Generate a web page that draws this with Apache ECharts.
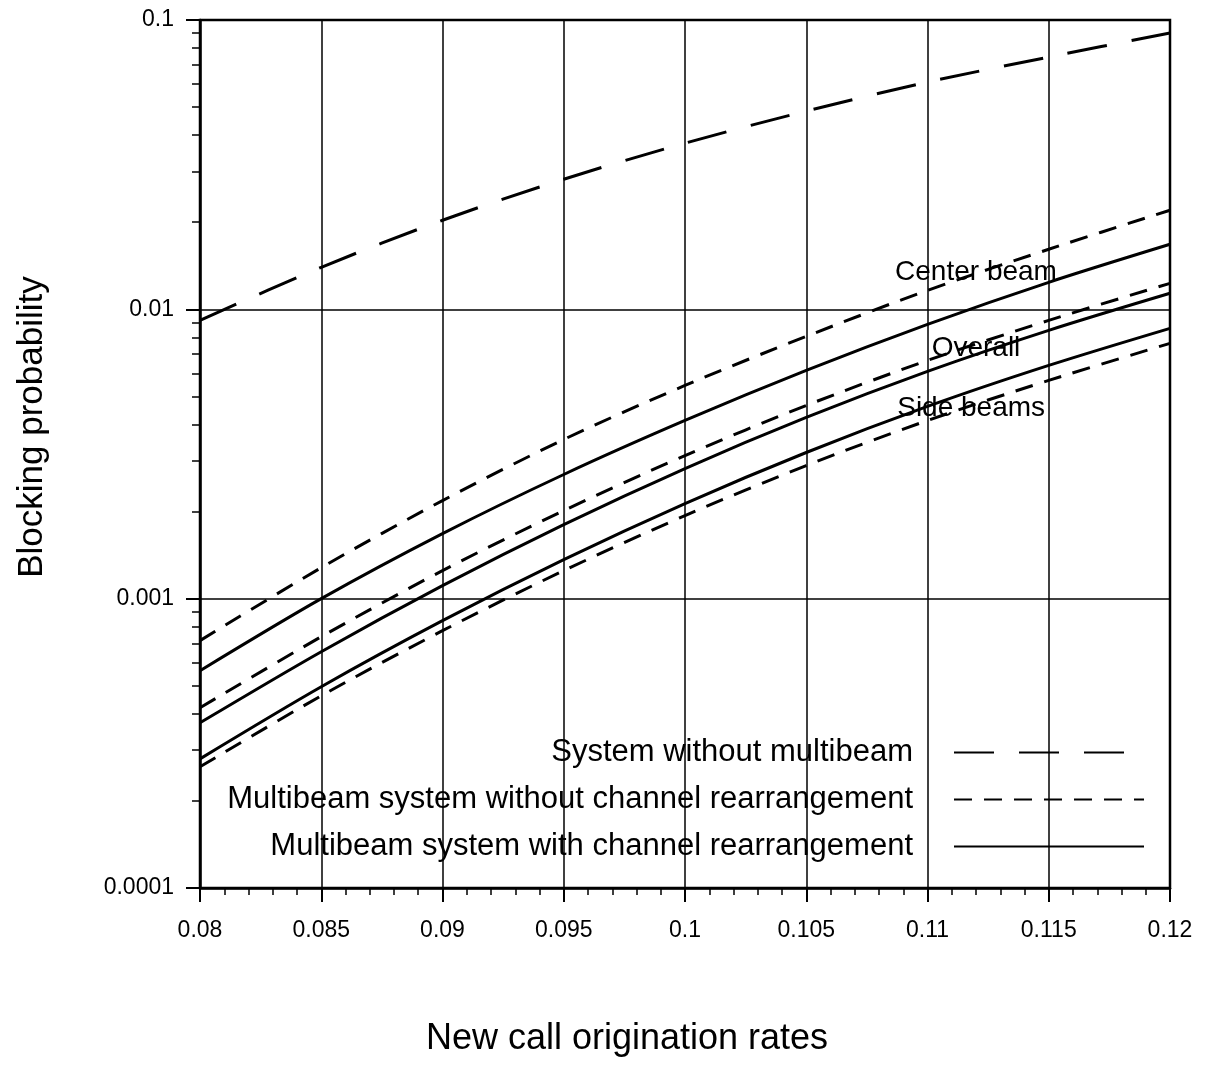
<!DOCTYPE html>
<html>
<head>
<meta charset="utf-8">
<script src="https://cdn.jsdelivr.net/npm/echarts@6/dist/echarts.min.js"></script>
<style>
html,body{margin:0;padding:0;background:#fff;}
#chart{width:1205px;height:1068px;}
</style>
</head>
<body>
<div id="chart"></div>
<script>
// ---- data ----
const xValues = [0.08, 0.085, 0.09, 0.095, 0.1, 0.105, 0.11, 0.115, 0.12];
const noMultibeam      = [0.00916, 0.01397, 0.02032, 0.02817, 0.03753, 0.04843, 0.06102, 0.07447, 0.09016];
const centerNoRearr    = [0.000716, 0.00128, 0.002183, 0.00355, 0.005458, 0.008065, 0.01163, 0.01613, 0.02201];
const centerRearr      = [0.0005636, 0.001, 0.001678, 0.002686, 0.004129, 0.00615, 0.008873, 0.0124, 0.01678];
const overallNoRearr   = [0.0004196, 0.0007388, 0.00125, 0.002016, 0.003124, 0.004653, 0.00666, 0.00916, 0.0123];
const overallRearr     = [0.0003723, 0.0006555, 0.001109, 0.001803, 0.002817, 0.00423, 0.006102, 0.008458, 0.01136];
const sideRearr        = [0.0002795, 0.000496, 0.0008392, 0.001364, 0.002131, 0.0032, 0.004617, 0.0064, 0.008597];
const sideNoRearr      = [0.0002623, 0.0004617, 0.000775, 0.00125, 0.001937, 0.002885, 0.004129, 0.00568, 0.007627];
const xTickLabels = ['0.08','0.085','0.09','0.095','0.1','0.105','0.11','0.115','0.12'];
const yTickLabels = {'-4':'0.0001','-3':'0.001','-2':'0.01','-1':'0.1'};
const legendNames = ['System without multibeam','Multibeam system without channel rearrangement','Multibeam system with channel rearrangement'];
const annotations = [
  {text:'Center beam', x:0.1120, y:0.01343},
  {text:'Overall', x:0.1120, y:0.00733},
  {text:'Side beams', x:0.1118, y:0.004543}
];

const FONT = '"Liberation Sans", Arial, sans-serif';
const pairs = arr => xValues.map((x,i)=>[x, arr[i]]);

function mkSeries(name, data, dash, extra){
  const s = {
    name: name, type:'line', data: pairs(data), symbol:'none', smooth:0.3,
    lineStyle:{color:'#000', width:3, type: dash || 'solid'},
    itemStyle:{color:'#000'},
    silent:true, z:3
  };
  return Object.assign(s, extra||{});
}
const LONG = [40,25];
const SHORT = [18,12];

const chart = echarts.init(document.getElementById('chart'), null, {renderer:'canvas'});
const option = {
  backgroundColor:'#fff',
  animation:false,
  grid:{left:200, right:35, top:20, bottom:180, show:true, borderColor:'#000', borderWidth:2.5, backgroundColor:'transparent'},
  xAxis:{
    type:'value', min:0.08, max:0.12, interval:0.005,
    name:'New call origination rates', nameLocation:'middle', nameGap:133,
    nameTextStyle:{fontFamily:FONT, fontSize:36, color:'#000', padding:[0,116,0,0]},
    axisLine:{show:true, lineStyle:{color:'#000', width:2.5}},
    axisTick:{show:true, length:14, lineStyle:{color:'#000', width:2}},
    minorTick:{show:true, splitNumber:5, length:7, lineStyle:{color:'#000', width:1.5}},
    splitLine:{show:true, lineStyle:{color:'#000', width:1.5}},
    axisLabel:{margin:31, fontFamily:FONT, fontSize:23, color:'#000',
      formatter:function(v){ const i = Math.round((v-0.08)/0.005); return xTickLabels[i] || ''; }}
  },
  yAxis:{
    type:'log', logBase:10, min:0.0001, max:0.1,
    name:'Blocking probability', nameLocation:'middle', nameGap:150, nameRotate:90,
    nameTextStyle:{fontFamily:FONT, fontSize:35, color:'#000', padding:[0,0,0,54]},
    axisLine:{show:true, lineStyle:{color:'#000', width:2.5}},
    axisTick:{show:true, length:14, lineStyle:{color:'#000', width:2}},
    minorTick:{show:true, splitNumber:9, length:8, lineStyle:{color:'#000', width:1.5}},
    splitLine:{show:true, lineStyle:{color:'#000', width:1.5}},
    axisLabel:{margin:26, fontFamily:FONT, fontSize:23, color:'#000',
      formatter:function(v){ const e = Math.round(Math.log10(v)); return yTickLabels[String(e)] || ''; }}
  },
  legend:{
    show:true, orient:'vertical', right:55, top:732, align:'right',
    itemWidth:190, itemHeight:14, itemGap:16,
    itemStyle:{opacity:0},
    textStyle:{fontFamily:FONT, fontSize:31, color:'#000', padding:[0,36,0,0]},
    data: legendNames.map(n=>({name:n}))
  },
  series:[
    mkSeries(legendNames[0], noMultibeam, LONG),
    mkSeries(legendNames[1], centerNoRearr, SHORT),
    mkSeries(legendNames[1], overallNoRearr, SHORT),
    mkSeries(legendNames[1], sideNoRearr, SHORT),
    mkSeries(legendNames[2], centerRearr, 'solid', {
      markPoint:{silent:true, symbol:'circle', symbolSize:2,
        itemStyle:{color:'rgba(0,0,0,0)'},
        label:{show:true, position:'inside', fontFamily:FONT, fontSize:28, color:'#000'},
        data: annotations.map(a=>({name:a.text, coord:[a.x,a.y], value:a.text,
          label:{show:true, position:'inside', formatter:a.text, fontFamily:FONT, fontSize:28, color:'#000'}}))}
    }),
    mkSeries(legendNames[2], overallRearr, 'solid'),
    mkSeries(legendNames[2], sideRearr, 'solid')
  ]
};
chart.setOption(option);
</script>
</body>
</html>
